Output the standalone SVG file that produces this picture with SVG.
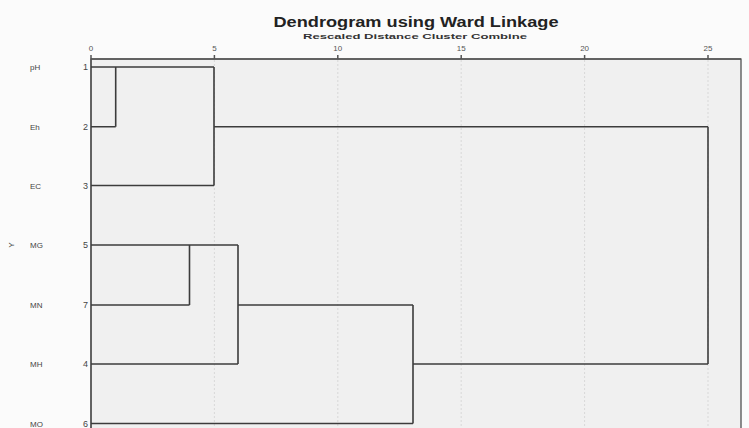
<svg xmlns="http://www.w3.org/2000/svg" width="749" height="428" viewBox="0 0 749 428">
<style>
.t{font-family:"Liberation Sans",Arial,sans-serif;fill:#222}
.title{font-size:14px;font-weight:bold;text-anchor:middle}
.sub{font-size:8px;font-weight:bold;text-anchor:middle;fill:#333}
.tick{font-size:8px;text-anchor:middle;fill:#555}
.lab{font-size:8px;fill:#444}
.num{font-size:9px;text-anchor:end;fill:#444}
.grid{stroke:#d8d8d8;stroke-width:1;stroke-dasharray:2 2}
.den{stroke:#3c3c3c;stroke-width:1.6;fill:none}
.ax{stroke:#555;stroke-width:1.5;fill:none}
</style>
<rect width="749" height="428" fill="#fbfbfb"/>
<rect x="91" y="59" width="650" height="380" fill="#f0f0f0" stroke="#444" stroke-width="1.2"/>
<text class="t title" x="416" y="27" textLength="285" lengthAdjust="spacingAndGlyphs">Dendrogram using Ward Linkage</text>
<text class="t sub" x="415" y="39" textLength="224" lengthAdjust="spacingAndGlyphs">Rescaled Distance Cluster Combine</text>
<g id="axis">
<line class="grid" x1="214.4" y1="60" x2="214.4" y2="428"/>
<line class="grid" x1="337.8" y1="60" x2="337.8" y2="428"/>
<line class="grid" x1="461.2" y1="60" x2="461.2" y2="428"/>
<line class="grid" x1="584.6" y1="60" x2="584.6" y2="428"/>
<line class="grid" x1="708" y1="60" x2="708" y2="428"/>
<path class="ax" d="M91 59H741M91 59V428M91 59v-4M214.4 59v-4M337.8 59v-4M461.2 59v-4M584.6 59v-4M708 59v-4"/>
<text class="t tick" x="91" y="51">0</text>
<text class="t tick" x="214.4" y="51">5</text>
<text class="t tick" x="337.8" y="51">10</text>
<text class="t tick" x="461.2" y="51">15</text>
<text class="t tick" x="584.6" y="51">20</text>
<text class="t tick" x="708" y="51">25</text>
<text class="t lab" x="14" y="245" transform="rotate(-90 14 245)" text-anchor="middle">Y</text>
</g>
<g id="node-pH"><text class="t lab" x="30" y="70">pH</text><text class="t num" x="88" y="70">1</text></g>
<g id="node-Eh"><text class="t lab" x="30" y="130">Eh</text><text class="t num" x="88" y="130">2</text></g>
<g id="node-EC"><text class="t lab" x="30" y="189">EC</text><text class="t num" x="88" y="189">3</text></g>
<g id="node-MG"><text class="t lab" x="30" y="248">MG</text><text class="t num" x="88" y="248">5</text></g>
<g id="node-MN"><text class="t lab" x="30" y="308">MN</text><text class="t num" x="88" y="308">7</text></g>
<g id="node-MH"><text class="t lab" x="30" y="367">MH</text><text class="t num" x="88" y="367">4</text></g>
<g id="node-MO"><text class="t lab" x="30" y="427">MO</text><text class="t num" x="88" y="427">6</text></g>
<g id="connectors">
<path class="den" d="M91 67H214M91 126.7H115.7M115.7 67V126.7M91 185.5H214M214 67V185.5M214 126.7H708"/>
<path class="den" d="M91 245H238M91 305H189.5M189.5 245V305M91 364H238M238 245V364M238 305H413M91 423.5H413M413 305V423.5M413 364H708"/>
<path class="den" d="M708 126.7V364"/>
</g>
</svg>
